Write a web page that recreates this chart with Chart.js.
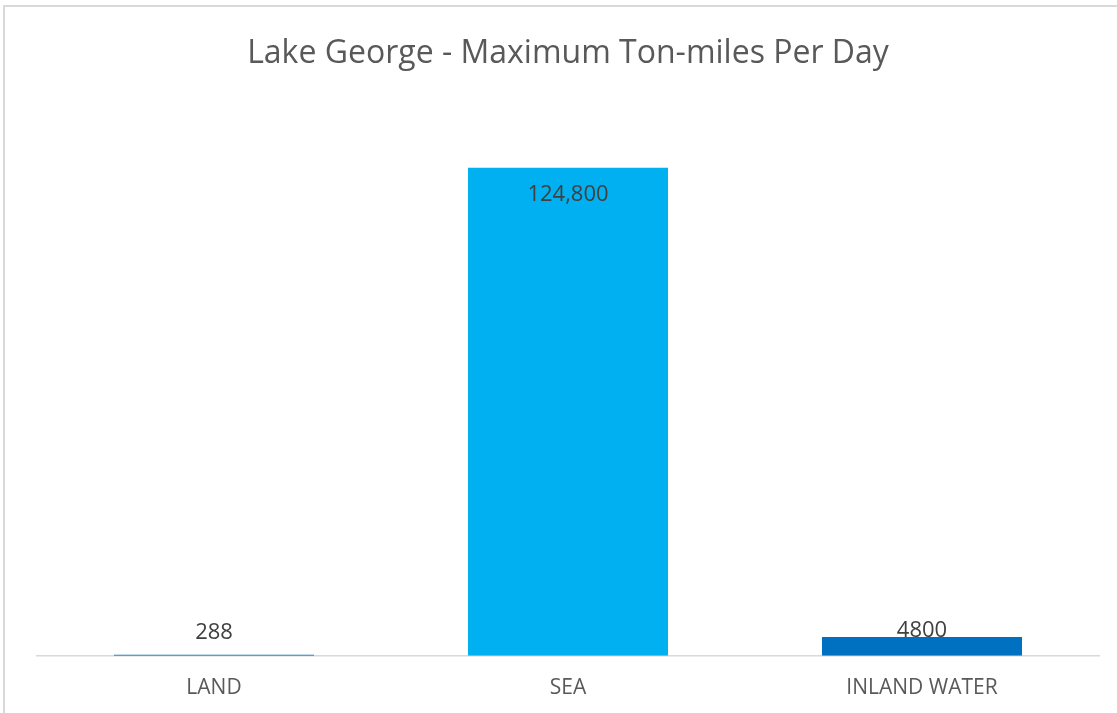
<!DOCTYPE html>
<html>
<head>
<meta charset="utf-8">
<script src="https://cdn.jsdelivr.net/npm/chart.js@4"></script>
<style>
  html, body { margin: 0; padding: 0; background: #fff; overflow: hidden; }
  #frame {
    position: absolute; left: 3px; top: 5px;
    width: 1122px; height: 720px;
    border-left: 2px solid #d9d9d9; border-top: 2px solid #d9d9d9;
  }
  #wrap { position: absolute; left: 0; top: 0; width: 1120px; height: 706px; }
</style>
</head>
<body>
<div id="frame"><div id="wrap"><canvas id="chart"></canvas></div></div>
<script>
const categories = ["LAND", "SEA", "INLAND WATER"];
const tonMiles = [288, 124800, 4800];
const valueLabels = ["288", "124,800", "4800"];
const barColors = ["#0070c0", "#00b0f0", "#0070c0"];

const FONT = "'Open Sans', 'DejaVu Sans', sans-serif";

// value labels: inside the top of tall bars, just above short ones
const barLabels = {
    id: "barLabels",
    afterDatasetsDraw(chart) {
        const ctx = chart.ctx;
        const meta = chart.getDatasetMeta(0);
        ctx.save();
        ctx.font = "22px " + FONT;
        ctx.fillStyle = "#404040";
        ctx.textAlign = "center";
        meta.data.forEach(function (bar, i) {
            const height = bar.base - bar.y;
            if (height > 60) {
                ctx.textBaseline = "middle";
                ctx.fillText(valueLabels[i], bar.x, bar.y + 27);
            } else {
                ctx.textBaseline = "alphabetic";
                ctx.fillText(valueLabels[i], bar.x, Math.min(bar.y, bar.base - 17));
            }
        });
        ctx.restore();
    }
};

new Chart(document.getElementById("chart").getContext("2d"), {
    type: "bar",
    data: {
        labels: categories,
        datasets: [{
            label: "Ton-miles",
            data: tonMiles,
            backgroundColor: barColors,
            categoryPercentage: 1,
            barPercentage: 0.565
        }]
    },
    options: {
        responsive: true,
        maintainAspectRatio: false,
        animation: false,
        layout: { padding: { left: 32, right: 26, top: 0, bottom: 0 } },
        plugins: {
            legend: { display: false },
            tooltip: { enabled: false },
            title: {
                display: true,
                text: "Lake George - Maximum Ton-miles Per Day",
                color: "#595959",
                font: { family: FONT, size: 32, weight: "normal" },
                padding: { top: 28, bottom: 35 }
            }
        },
        scales: {
            x: {
                z: 1,
                grid: { display: false },
                border: { display: true, color: "#d9d9d9", width: 1.5 },
                ticks: {
                    color: "#595959",
                    font: { family: FONT, size: 21 },
                    padding: 12
                }
            },
            y: {
                display: false,
                min: 0,
                max: 140000
            }
        }
    },
    plugins: [barLabels]
});
</script>
</body>
</html>
